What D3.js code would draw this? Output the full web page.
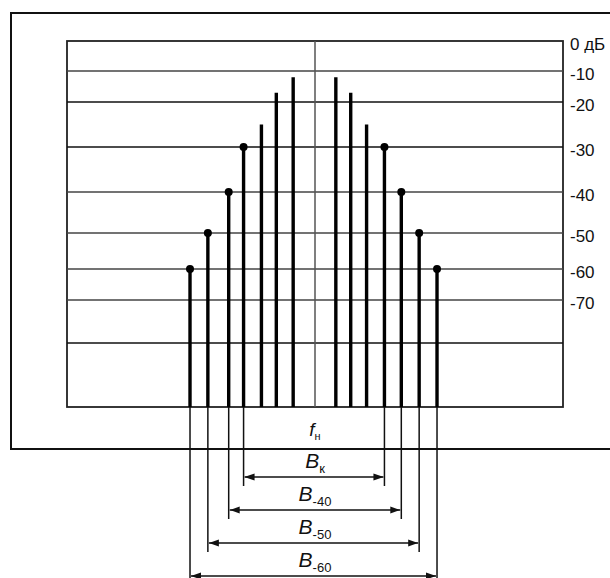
<!DOCTYPE html>
<html>
<head>
<meta charset="utf-8">
<script src="https://cdn.jsdelivr.net/npm/d3@7"></script>
<style>
  body { margin: 0; background: #fff; }
  text { font-family: "Liberation Sans", Arial, sans-serif; fill: #111; }
</style>
</head>
<body>
<svg id="spectrum" width="610" height="578"></svg>
<script>
// levels in dB, the scale is hand drawn (not even spacing)
var levelTicks = [0, -10, -20, -30, -40, -50, -60, -70];
var tickLabels = ["0 дБ", "-10", "-20", "-30", "-40", "-50", "-60", "-70"];
var gridLevels = [-10, -20, -30, -40, -50, -60, -70, -80];

// spectral lines: offset from carrier (arb. units) and level in dB
var lineOffsets = [-126, -108, -87, -72, -54, -39, -22, 21, 36, 52, 70, 87, 105, 123];
var lineLevels  = [-60, -50, -40, -30, -25, -17, -12, -12, -17, -25, -30, -40, -50, -60];

// bandwidths measured at these levels
var bandNames  = ["к", "-40", "-50", "-60"];
var bandLevels = [-30, -40, -50, -60];

var svg = d3.select('#spectrum');

var x = d3.scaleLinear().domain([-250, 250]).range([67, 563]);
var y = d3.scaleLinear()
  .domain([0, -10, -20, -30, -40, -50, -60, -70, -80, -90])
  .range([41, 71, 102, 147, 192, 233, 269, 300, 343, 407]);

var bandY = d3.scaleBand().domain(bandNames).range([460, 592]).padding(0);

var lines = lineOffsets.map(function(d, i) { return { off: d, level: lineLevels[i] }; });

// arrow heads
var defs = svg.append('defs');
defs.append('marker')
  .attr('id', 'ah').attr('viewBox', '0 0 10 10').attr('refX', 10).attr('refY', 5)
  .attr('markerWidth', 10).attr('markerHeight', 10).attr('markerUnits', 'userSpaceOnUse')
  .attr('orient', 'auto-start-reverse')
  .append('path').attr('d', 'M0,1.5 L10,5 L0,8.5 Z').attr('fill', '#111');

// outer frame
svg.append('rect')
  .attr('x', 11).attr('y', 13).attr('width', 640).attr('height', 436)
  .attr('fill', 'none').attr('stroke', '#111').attr('stroke-width', 2);

// plot box
svg.append('rect')
  .attr('x', x(-250)).attr('y', y(0)).attr('width', x(250) - x(-250)).attr('height', y(-90) - y(0))
  .attr('fill', 'none').attr('stroke', '#222').attr('stroke-width', 1.8);

svg.append('g').selectAll('line')
  .data(gridLevels).enter().append('line')
  .attr('x1', x(-250)).attr('x2', x(250))
  .attr('y1', function(d) { return y(d); })
  .attr('y2', function(d) { return y(d); })
  .attr('stroke', function(d) { return (d === -20 || d === -30 || d === -80) ? '#111' : '#444'; })
  .attr('stroke-width', 1.6);

// level labels
svg.append('g').selectAll('text')
  .data(levelTicks).enter().append('text')
  .attr('x', x(250) + 7)
  .attr('y', function(d) { return y(d) + 9; })
  .attr('font-size', 17)
  .text(function(d, i) { return tickLabels[i]; });

// carrier position
svg.append('line')
  .attr('x1', x(0)).attr('x2', x(0)).attr('y1', y(0)).attr('y2', y(-90))
  .attr('stroke', '#555').attr('stroke-width', 1.5);

// extension lines down to the bandwidth arrows
var ext = [];
bandLevels.forEach(function(lv, k) {
  lines.forEach(function(l) {
    if (l.level === lv) ext.push({ off: l.off, y2: bandY(bandNames[k]) + 26 });
  });
});
svg.append('g').selectAll('line')
  .data(ext).enter().append('line')
  .attr('x1', function(d) { return x(d.off); })
  .attr('x2', function(d) { return x(d.off); })
  .attr('y1', y(-90))
  .attr('y2', function(d) { return d.y2; })
  .attr('stroke', '#111').attr('stroke-width', 1.5);

// spectral lines
svg.append('g').selectAll('line')
  .data(lines).enter().append('line')
  .attr('x1', function(d) { return x(d.off); })
  .attr('x2', function(d) { return x(d.off); })
  .attr('y1', function(d) { return y(d.level); })
  .attr('y2', y(-90))
  .attr('stroke', '#000').attr('stroke-width', 3.4);

svg.append('g').selectAll('circle')
  .data(lines.filter(function(d) { return bandLevels.indexOf(d.level) >= 0; }))
  .enter().append('circle')
  .attr('cx', function(d) { return x(d.off); })
  .attr('cy', function(d) { return y(d.level); })
  .attr('r', 4).attr('fill', '#000');

// f_н
var fl = svg.append('text')
  .attr('x', x(0)).attr('y', 436).attr('text-anchor', 'middle').attr('font-size', 19);
fl.append('tspan').attr('font-style', 'italic').text('f');
fl.append('tspan').attr('font-size', 11).attr('dy', 4).text('н');

// bandwidth arrows and labels
bandNames.forEach(function(name, k) {
  var lv = bandLevels[k];
  var offs = lines.filter(function(l) { return l.level === lv; }).map(function(l) { return l.off; });
  var ay = bandY(name) + 17;
  svg.append('line')
    .attr('x1', x(d3.min(offs)) + 1).attr('x2', x(d3.max(offs)) - 1)
    .attr('y1', ay).attr('y2', ay)
    .attr('stroke', '#111').attr('stroke-width', 1.5)
    .attr('marker-start', 'url(#ah)').attr('marker-end', 'url(#ah)');
  var t = svg.append('text')
    .attr('x', x(0)).attr('y', ay - 9).attr('text-anchor', 'middle').attr('font-size', 21);
  t.append('tspan').attr('font-style', 'italic').text('B');
  t.append('tspan').attr('font-size', 13).attr('dy', 5).text(name);
});
</script>
</body>
</html>
